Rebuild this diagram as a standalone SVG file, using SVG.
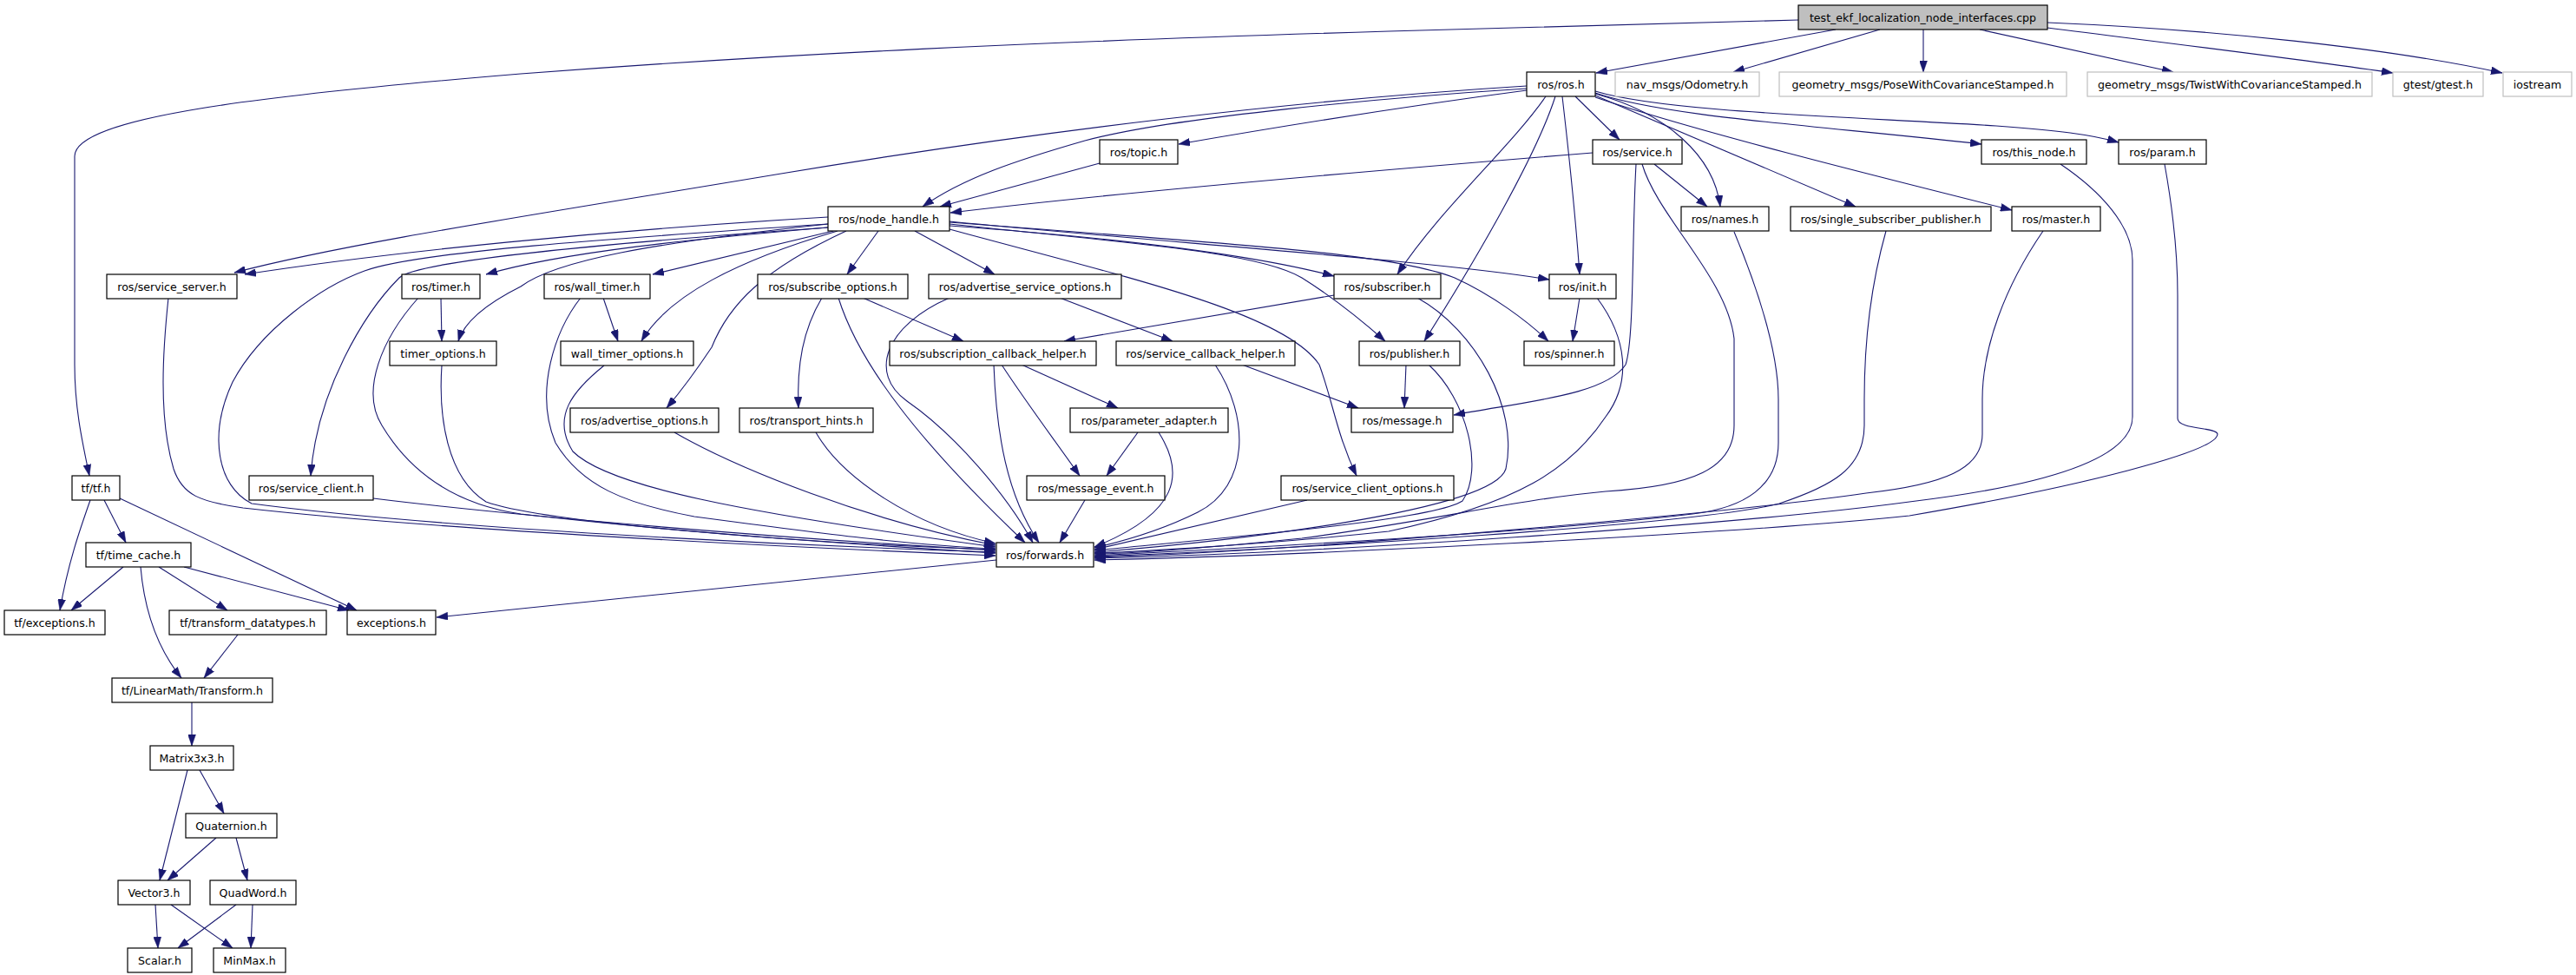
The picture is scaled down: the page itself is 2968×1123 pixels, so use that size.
<svg xmlns="http://www.w3.org/2000/svg" width="2968" height="1123" viewBox="0 0 2968 1123">
<style>
.n rect{fill:#fff;stroke:#000;stroke-width:1.2}
.x rect{fill:#fff;stroke:#bfbfbf;stroke-width:1.2}
.m rect{fill:#bfbfbf;stroke:#000;stroke-width:1.2}
text{font-family:"DejaVu Sans","Liberation Sans",sans-serif;font-size:12.6px;text-anchor:middle;fill:#000}
.e path{fill:none;stroke:#191970;stroke-width:1.1;marker-end:url(#a)}
</style>
<defs>
<marker id="a" markerUnits="userSpaceOnUse" markerWidth="13" markerHeight="9" refX="13" refY="4.5" orient="auto">
<path d="M0,0 L13,4.5 L0,9 Z" fill="#191970" stroke="#191970" stroke-width="0.5"/>
</marker>
</defs>
<rect width="2968" height="1123" fill="#fff"/>
<g class="e" id="edges">
<!-- from test -->
<path d="M2072,23 L1600,36 C1200,48 900,62 600,85 C300,110 86,135 86,180 L86,420 C86,470 95,510 103,548"/>
<path d="M2115,34 L1839,84"/>
<path d="M2166,34 L1997,83"/>
<path d="M2216,34 L2216,83"/>
<path d="M2281,34 L2504,83"/>
<path d="M2359,32 C2500,50 2650,68 2757,84"/>
<path d="M2359,26 C2550,34 2750,55 2883,84"/>
<!-- from ros.h -->
<path d="M1759,99 C1500,115 1200,150 900,200 S400,280 270,314"/>
<path d="M1759,102 C1600,112 1350,135 1250,162 C1170,185 1110,205 1063,238"/>
<path d="M1759,104 C1600,125 1450,150 1358,166"/>
<path d="M1815,111 L1866,161"/>
<path d="M1838,108 C1920,130 1975,180 1982,238"/>
<path d="M1838,110 L2138,238"/>
<path d="M1838,112 C1950,150 2150,200 2318,242"/>
<path d="M1838,107 C1920,135 2100,145 2283,166"/>
<path d="M1838,105 C1920,130 2150,135 2300,145 C2370,150 2410,155 2441,164"/>
<path d="M1781,111 C1740,170 1660,240 1610,316"/>
<path d="M1792,111 C1770,180 1700,300 1641,393"/>
<path d="M1800,111 C1808,180 1816,260 1820,316"/>
<!-- from service.h -->
<path d="M1835,176 C1600,195 1300,220 1095,245"/>
<path d="M1906,189 L1967,238"/>
<path d="M1885,189 C1880,280 1883,390 1873,420 C1850,455 1760,462 1675,478"/>
<path d="M1892,189 C1910,250 1990,320 1998,390 L1998,490 C1998,540 1950,560 1850,566 C1750,575 1650,600 1500,620 C1400,630 1300,638 1261,638"/>
<!-- topic -->
<path d="M1267,188 L1083,238"/>
<!-- node_handle -->
<path d="M954,250 C700,265 450,290 282,316"/>
<path d="M954,262 C800,275 650,290 560,316"/>
<path d="M954,258 C750,280 640,300 600,330 C560,350 535,370 528,393"/>
<path d="M960,266 L752,316"/>
<path d="M965,266 C850,300 770,340 739,393"/>
<path d="M975,266 C880,310 840,350 820,400 C800,430 785,450 768,470"/>
<path d="M954,262 C700,280 480,300 460,320 C420,360 365,450 358,548"/>
<path d="M954,258 C700,275 480,290 420,312 C370,330 300,380 268,440 C240,500 250,560 290,580 C500,608 900,628 1147,636"/>
<path d="M1012,266 L976,316"/>
<path d="M1054,266 L1146,316"/>
<path d="M1094,260 C1300,275 1450,295 1537,318"/>
<path d="M1094,258 C1300,280 1450,290 1500,320 C1540,345 1570,370 1596,393"/>
<path d="M1094,255 C1350,280 1650,300 1785,322"/>
<path d="M1094,256 C1400,280 1600,290 1676,320 C1720,340 1760,370 1784,393"/>
<path d="M1094,264 C1300,320 1480,360 1520,420 C1535,460 1540,500 1563,548"/>
<!-- second level -->
<path d="M508,343 L509,393"/>
<path d="M695,343 L712,393"/>
<path d="M947,343 C925,380 918,420 920,470"/>
<path d="M994,343 L1110,393"/>
<path d="M1221,343 L1351,393"/>
<path d="M1537,340 L1226,393"/>
<path d="M1154,420 C1180,460 1210,500 1244,548"/>
<path d="M1177,420 L1288,470"/>
<path d="M1311,498 L1275,548"/>
<path d="M1431,420 L1565,470"/>
<path d="M1620,420 L1618,470"/>
<path d="M1820,343 L1812,393"/>
<!-- into forwards from left -->
<path d="M194,343 C188,400 182,480 200,540 C210,570 230,578 280,585 C500,610 900,630 1147,640"/>
<path d="M430,574 C600,595 900,620 1147,634"/>
<path d="M482,343 C440,390 415,450 440,490 C470,540 520,580 600,592 C800,615 1000,628 1147,637"/>
<path d="M509,421 C505,480 515,550 560,578 C620,600 900,625 1147,633"/>
<path d="M669,343 C640,380 615,450 640,510 C670,560 720,580 800,595 C950,615 1050,628 1147,632"/>
<path d="M696,421 C660,450 635,480 660,520 C700,560 850,590 1147,630"/>
<path d="M777,498 C850,540 1000,600 1147,628"/>
<path d="M940,498 C970,550 1050,605 1147,626"/>
<path d="M966,343 C990,420 1060,510 1181,625"/>
<path d="M1094,343 C1020,375 1000,430 1045,462 C1100,500 1160,570 1190,625"/>
<path d="M1145,420 C1148,500 1160,570 1197,625"/>
<path d="M1250,576 L1221,625"/>
<!-- into forwards from right -->
<path d="M1335,498 C1365,545 1360,590 1261,630"/>
<path d="M1400,420 C1440,480 1440,560 1380,590 C1340,610 1300,622 1261,631"/>
<path d="M1506,576 L1261,633"/>
<path d="M1646,420 C1690,460 1710,540 1685,577 C1650,600 1400,620 1261,634"/>
<path d="M1633,343 C1700,380 1750,470 1735,540 C1720,590 1400,625 1261,636"/>
<path d="M1840,343 C1875,390 1880,440 1850,480 C1810,540 1750,580 1600,612 C1450,628 1300,636 1261,637"/>
<path d="M1998,267 C2020,320 2049,400 2049,460 L2049,510 C2049,560 2010,585 1950,592 C1800,610 1500,628 1261,640"/>
<path d="M2173,266 C2155,330 2148,400 2148,460 L2148,490 C2148,540 2110,560 2050,580 C1950,605 1500,632 1261,641"/>
<path d="M2354,266 C2310,330 2284,400 2284,460 L2284,500 C2284,540 2240,558 2150,568 C2000,590 1500,635 1261,642"/>
<path d="M2374,189 C2420,220 2457,260 2457,300 L2457,480 C2457,530 2350,560 2200,578 C2000,605 1500,638 1261,643"/>
<path d="M2494,189 C2505,250 2509,300 2509,340 L2509,482 C2509,495 2555,492 2555,500 C2555,520 2400,560 2200,594 C2000,615 1500,640 1261,645"/>
<!-- forwards to exceptions -->
<path d="M1148,645 L503,711"/>
<!-- tf -->
<path d="M104,576 C92,610 78,650 69,703"/>
<path d="M120,576 L145,625"/>
<path d="M138,574 L411,703"/>
<path d="M142,653 L82,703"/>
<path d="M183,653 L262,703"/>
<path d="M212,653 L402,703"/>
<path d="M162,653 C166,700 180,745 209,781"/>
<path d="M274,731 L235,781"/>
<path d="M221,809 L221,859"/>
<path d="M216,887 L184,1014"/>
<path d="M230,887 L258,937"/>
<path d="M249,965 L193,1014"/>
<path d="M272,965 L285,1014"/>
<path d="M179,1042 L182,1092"/>
<path d="M197,1042 L268,1092"/>
<path d="M272,1042 L205,1092"/>
<path d="M291,1042 L289,1092"/>
</g>
<g id="test" class="m"><rect x="2072" y="6" width="287" height="28"/><text x="2215.5" y="25">test_ekf_localization_node_interfaces.cpp</text></g>
<g id="ros_h" class="n"><rect x="1759" y="83" width="79" height="28"/><text x="1798.5" y="102">ros/ros.h</text></g>
<g id="nav_odom" class="x"><rect x="1861" y="83" width="166" height="28"/><text x="1944" y="102">nav_msgs/Odometry.h</text></g>
<g id="pose" class="x"><rect x="2050" y="83" width="331" height="28"/><text x="2215.5" y="102">geometry_msgs/PoseWithCovarianceStamped.h</text></g>
<g id="twist" class="x"><rect x="2405" y="83" width="328" height="28"/><text x="2569" y="102">geometry_msgs/TwistWithCovarianceStamped.h</text></g>
<g id="gtest" class="x"><rect x="2757" y="83" width="104" height="28"/><text x="2809" y="102">gtest/gtest.h</text></g>
<g id="iostream" class="x"><rect x="2884" y="83" width="79" height="28"/><text x="2923.5" y="102">iostream</text></g>
<g id="topic" class="n"><rect x="1267" y="161" width="90" height="28"/><text x="1312" y="180">ros/topic.h</text></g>
<g id="service" class="n"><rect x="1835" y="161" width="103" height="28"/><text x="1886.5" y="180">ros/service.h</text></g>
<g id="this_node" class="n"><rect x="2283" y="161" width="121" height="28"/><text x="2343.5" y="180">ros/this_node.h</text></g>
<g id="param" class="n"><rect x="2441" y="161" width="101" height="28"/><text x="2491.5" y="180">ros/param.h</text></g>
<g id="node_handle" class="n"><rect x="954" y="238" width="140" height="28"/><text x="1024" y="257">ros/node_handle.h</text></g>
<g id="names" class="n"><rect x="1937" y="238" width="101" height="28"/><text x="1987.5" y="257">ros/names.h</text></g>
<g id="ssp" class="n"><rect x="2063" y="238" width="231" height="28"/><text x="2178.5" y="257">ros/single_subscriber_publisher.h</text></g>
<g id="master" class="n"><rect x="2318" y="238" width="102" height="28"/><text x="2369" y="257">ros/master.h</text></g>
<g id="service_server" class="n"><rect x="123" y="316" width="150" height="28"/><text x="198" y="335">ros/service_server.h</text></g>
<g id="timer" class="n"><rect x="463" y="316" width="90" height="28"/><text x="508" y="335">ros/timer.h</text></g>
<g id="wall_timer" class="n"><rect x="627" y="316" width="122" height="28"/><text x="688" y="335">ros/wall_timer.h</text></g>
<g id="subscribe_options" class="n"><rect x="873" y="316" width="173" height="28"/><text x="959.5" y="335">ros/subscribe_options.h</text></g>
<g id="advertise_service_options" class="n"><rect x="1070" y="316" width="222" height="28"/><text x="1181" y="335">ros/advertise_service_options.h</text></g>
<g id="subscriber" class="n"><rect x="1537" y="316" width="123" height="28"/><text x="1598.5" y="335">ros/subscriber.h</text></g>
<g id="init" class="n"><rect x="1785" y="316" width="77" height="28"/><text x="1823.5" y="335">ros/init.h</text></g>
<g id="timer_options" class="n"><rect x="449" y="393" width="123" height="28"/><text x="510.5" y="412">timer_options.h</text></g>
<g id="wall_timer_options" class="n"><rect x="646" y="393" width="153" height="28"/><text x="722.5" y="412">wall_timer_options.h</text></g>
<g id="subscription_callback_helper" class="n"><rect x="1025" y="393" width="238" height="28"/><text x="1144" y="412">ros/subscription_callback_helper.h</text></g>
<g id="service_callback_helper" class="n"><rect x="1286" y="393" width="206" height="28"/><text x="1389" y="412">ros/service_callback_helper.h</text></g>
<g id="publisher" class="n"><rect x="1566" y="393" width="116" height="28"/><text x="1624" y="412">ros/publisher.h</text></g>
<g id="spinner" class="n"><rect x="1756" y="393" width="104" height="28"/><text x="1808" y="412">ros/spinner.h</text></g>
<g id="advertise_options" class="n"><rect x="657" y="470" width="171" height="28"/><text x="742.5" y="489">ros/advertise_options.h</text></g>
<g id="transport_hints" class="n"><rect x="852" y="470" width="154" height="28"/><text x="929" y="489">ros/transport_hints.h</text></g>
<g id="parameter_adapter" class="n"><rect x="1233" y="470" width="182" height="28"/><text x="1324" y="489">ros/parameter_adapter.h</text></g>
<g id="message" class="n"><rect x="1557" y="470" width="117" height="28"/><text x="1615.5" y="489">ros/message.h</text></g>
<g id="service_client" class="n"><rect x="287" y="548" width="143" height="28"/><text x="358.5" y="567">ros/service_client.h</text></g>
<g id="message_event" class="n"><rect x="1183" y="548" width="159" height="28"/><text x="1262.5" y="567">ros/message_event.h</text></g>
<g id="service_client_options" class="n"><rect x="1476" y="548" width="199" height="28"/><text x="1575.5" y="567">ros/service_client_options.h</text></g>
<g id="tf" class="n"><rect x="83" y="548" width="55" height="28"/><text x="110.5" y="567">tf/tf.h</text></g>
<g id="forwards" class="n"><rect x="1148" y="625" width="112" height="28"/><text x="1204" y="644">ros/forwards.h</text></g>
<g id="time_cache" class="n"><rect x="99" y="625" width="121" height="28"/><text x="159.5" y="644">tf/time_cache.h</text></g>
<g id="tf_exceptions" class="n"><rect x="5" y="703" width="116" height="28"/><text x="63" y="722">tf/exceptions.h</text></g>
<g id="transform_datatypes" class="n"><rect x="195" y="703" width="181" height="28"/><text x="285.5" y="722">tf/transform_datatypes.h</text></g>
<g id="exceptions" class="n"><rect x="400" y="703" width="102" height="28"/><text x="451" y="722">exceptions.h</text></g>
<g id="transform" class="n"><rect x="129" y="781" width="185" height="28"/><text x="221.5" y="800">tf/LinearMath/Transform.h</text></g>
<g id="matrix3x3" class="n"><rect x="173" y="859" width="96" height="28"/><text x="221" y="878">Matrix3x3.h</text></g>
<g id="quaternion" class="n"><rect x="214" y="937" width="105" height="28"/><text x="266.5" y="956">Quaternion.h</text></g>
<g id="vector3" class="n"><rect x="136" y="1014" width="83" height="28"/><text x="177.5" y="1033">Vector3.h</text></g>
<g id="quadword" class="n"><rect x="242" y="1014" width="99" height="28"/><text x="291.5" y="1033">QuadWord.h</text></g>
<g id="scalar" class="n"><rect x="147" y="1092" width="74" height="28"/><text x="184" y="1111">Scalar.h</text></g>
<g id="minmax" class="n"><rect x="246" y="1092" width="83" height="28"/><text x="287.5" y="1111">MinMax.h</text></g>
</svg>
